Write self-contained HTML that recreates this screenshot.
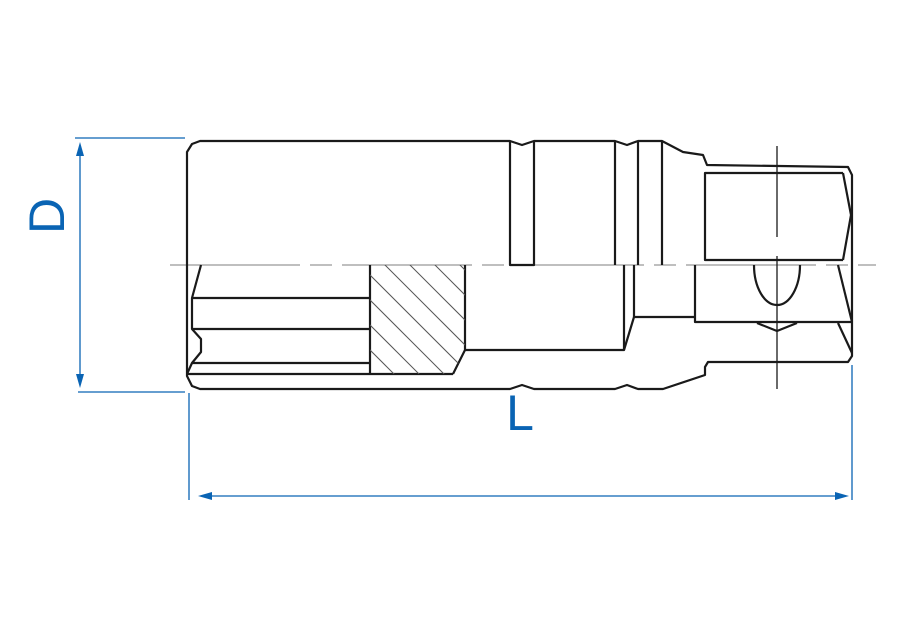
<!DOCTYPE html>
<html><head><meta charset="utf-8"><style>html,body{margin:0;padding:0;background:#fff}svg{display:block}</style></head><body>
<svg width="900" height="640" viewBox="0 0 900 640" xmlns="http://www.w3.org/2000/svg">
<!-- centerline -->
<line x1="170" y1="265" x2="876" y2="265" stroke="#999" stroke-width="1.2" stroke-dasharray="130,10,22,10"/>
<g fill="none" stroke="#1a1a1a" stroke-width="2.2" stroke-linejoin="round">
<!-- outline -->
<path d="M200,141 L510,141 L522,145 L534,141 L615,141 L627,145 L638,141 L662,141 L683,152 L703,155 L707,165 L848,167 L852,175 L852,356 L848,362 L708,362 L705,367 L705,375 L663,389 L638,389 L627,385 L615,389 L534,389 L522,385 L510,389 L200,389 L192,386 L187,376 L187,152 L192,144 Z"/>
<!-- top grooves -->
<path d="M510,141 L510,265 L534,265 L534,141"/>
<line x1="615" y1="141" x2="615" y2="265"/>
<line x1="638" y1="141" x2="638" y2="265"/>
<line x1="662" y1="141" x2="662" y2="265"/>
<!-- shank -->
<path d="M843,173 L705,173 L705,260 L843,260"/>
<path d="M843,173 L851,215 L843,260"/>
<!-- lower section -->
<path d="M201,265 L192,298 L192,329 L201,339 L201,352 L192,363 L187,374"/>
<line x1="192" y1="298" x2="370" y2="298"/>
<line x1="192" y1="329" x2="370" y2="329"/>
<line x1="192" y1="363" x2="370" y2="363"/>
<line x1="187" y1="374" x2="453" y2="374"/>
<path d="M370,265 L370,374"/>
<path d="M465,265 L465,350 L453,374"/>
<path d="M465,350 L624,350 L634,317 L695,317"/>
<line x1="624" y1="265" x2="624" y2="350"/>
<line x1="634" y1="265" x2="634" y2="317"/>
<path d="M695,265 L695,322 L852,322"/>
<path d="M838,265 L852,322"/>
<path d="M838,323 L852,353"/>
<path d="M754,265 A23,40 0 0 0 800,265"/>
<path d="M757,323 L777,331 L797,323"/>
</g>
<!-- hatching -->
<clipPath id="h"><path d="M370,265 L465,265 L465,350 L453,374 L370,374 Z"/></clipPath>
<g clip-path="url(#h)" stroke="#555" stroke-width="1">
<line x1="320" y1="225" x2="520" y2="425"/><line x1="345" y1="225" x2="545" y2="425"/>
<line x1="370" y1="225" x2="570" y2="425"/><line x1="395" y1="225" x2="595" y2="425"/>
<line x1="420" y1="225" x2="620" y2="425"/><line x1="445" y1="225" x2="645" y2="425"/>
<line x1="295" y1="225" x2="495" y2="425"/><line x1="270" y1="225" x2="470" y2="425"/>
<line x1="245" y1="225" x2="445" y2="425"/><line x1="220" y1="225" x2="420" y2="425"/>
</g>
<line x1="777" y1="146" x2="777" y2="237" stroke="#1a1a1a" stroke-width="1.3"/>
<line x1="777" y1="256" x2="777" y2="389" stroke="#1a1a1a" stroke-width="1.3"/>
<!-- dimensions -->
<g stroke="#0a64b4" stroke-width="1.3" fill="#0a64b4">
<line x1="75" y1="138" x2="185" y2="138"/>
<line x1="78" y1="392" x2="185" y2="392"/>
<line x1="80" y1="150" x2="80" y2="380"/>
<path d="M80,142 L76,156 L84,156 Z" stroke="none"/>
<path d="M80,388 L76,374 L84,374 Z" stroke="none"/>
<line x1="189" y1="393" x2="189" y2="500"/>
<line x1="852" y1="365" x2="852" y2="500"/>
<line x1="205" y1="496" x2="842" y2="496"/>
<path d="M198,496 L212,492 L212,500 Z" stroke="none"/>
<path d="M849,496 L835,492 L835,500 Z" stroke="none"/>
</g>
<text x="0" y="0" transform="translate(64,216) rotate(-90)" font-family="Liberation Sans, sans-serif" font-size="50" fill="#0a64b4" text-anchor="middle">D</text>
<text x="520" y="430" font-family="Liberation Sans, sans-serif" font-size="50" fill="#0a64b4" text-anchor="middle">L</text>
</svg>
</body></html>
